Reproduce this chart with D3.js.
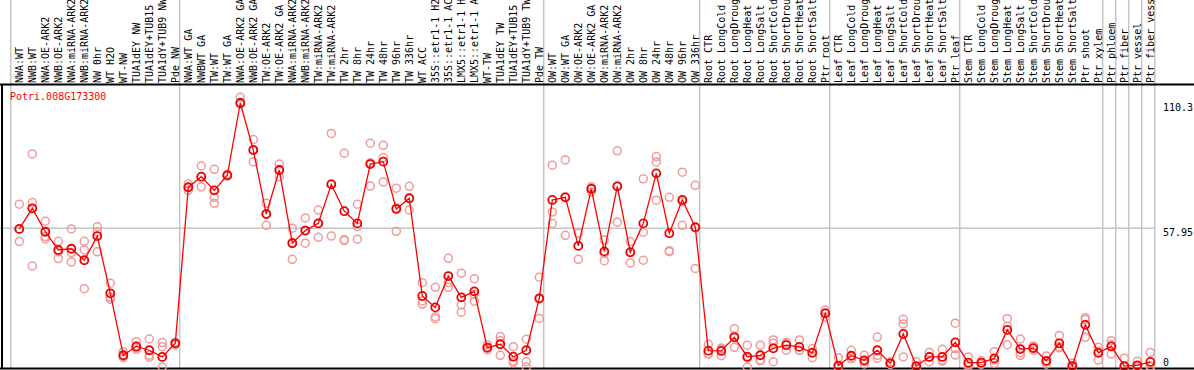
<!DOCTYPE html>
<html>
<head>
<meta charset="utf-8">
<script src="https://cdn.jsdelivr.net/npm/d3@7"></script>
<style>
  body { margin: 0; background: #fff; }
  svg text { font-family: "DejaVu Sans Mono", monospace; }
</style>
</head>
<body>
<script>
// sample labels, as shown (cut to 14 chars)
var categories = [
  'NWA:WT', 'NWB:WT', 'NWA:OE-ARK2', 'NWB:OE-ARK2', 'NWA:miRNA-ARK2', 'NWB:miRNA-ARK2', 'NW 0hr', 'WT H2O', 'WT-NW',
  'TUA1dEY NW', 'TUA1dEY+TUB15', 'TUA1dY+TUB9 NW', 'Pde NW',
  'NWA:WT GA', 'NWBWT GA', 'TW:WT', 'TW:WT GA', 'NWA:OE-ARK2 GA', 'NWB:OE-ARK2 GA', 'TW:OE-ARK2', 'TW:OE-ARK2 GA',
  'NWA:miRNA-ARK2', 'NWB:miRNA-ARK2', 'TW:miRNA-ARK2', 'TW:miRNA-ARK2', 'TW 2hr', 'TW 8hr', 'TW 24hr', 'TW 48hr',
  'TW 96hr', 'TW 336hr', 'WT ACC', '35S::etr1-1 H2', '35S::etr1-1 AC', 'LMX5::etr1-1 H', 'LMX5::etr1-1 A', 'WT-TW',
  'TUA1dEY TW', 'TUA1dEY+TUB15', 'TUA1dY+TUB9 TW', 'Pde TW',
  'OW:WT', 'OW:WT GA', 'OW:OE-ARK2', 'OW:OE-ARK2 GA', 'OW:miRNA-ARK2', 'OW:miRNA-ARK2', 'OW 2hr', 'OW 8hr', 'OW 24hr',
  'OW 48hr', 'OW 96hr', 'OW 336hr',
  'Root CTR', 'Root LongCold', 'Root LongDroug', 'Root LongHeat', 'Root LongSalt', 'Root ShortCold', 'Root ShortDrou',
  'Root ShortHeat', 'Root ShortSalt', 'Ptr root',
  'Leaf CTR', 'Leaf LongCold', 'Leaf LongDroug', 'Leaf LongHeat', 'Leaf LongSalt', 'Leaf ShortCold', 'Leaf ShortDrou',
  'Leaf ShortHeat', 'Leaf ShortSalt', 'Ptr leaf',
  'Stem CTR', 'Stem LongCold', 'Stem LongDroug', 'Stem LongHeat', 'Stem LongSalt', 'Stem ShortCold', 'Stem ShortDrou',
  'Stem ShortHeat', 'Stem ShortSalt', 'Ptr shoot', 'Ptr xylem',
  'Ptr phloem', 'Ptr fiber', 'Ptr vessel', 'Ptr fiber vess'
];

// how many samples in each experiment block
var groupSizes = [13, 28, 12, 10, 10, 11, 1, 1, 1, 1];

var meanValues = [
  57.7, 66.3, 56.5, 48.9, 49.4, 44.6, 54.7, 30.8, 4.9, 8.6, 7.0, 4.2, 9.9,
  75.1, 79.5, 73.8, 80.1, 110.3, 90.6, 63.9, 82.3, 51.7, 57.0, 60.0, 76.3, 65.1, 60.0, 84.8, 85.8, 66.0, 70.5,
  29.7, 24.9, 38.0, 29.1, 31.6, 8.1, 9.5, 4.3, 7.0, 28.7,
  69.8, 70.9, 50.6, 74.4, 48.3, 75.5, 47.9, 60.0, 80.9, 55.9, 69.8, 58.4,
  6.8, 6.7, 12.4, 4.3, 4.9, 7.8, 9.1, 8.4, 5.9, 22.4,
  0.6, 4.7, 2.8, 7.0, 1.5, 13.8, 0.4, 4.2, 4.2, 10.3,
  1.8, 1.8, 3.6, 15.5, 7.5, 7.9, 2.6, 9.9, 0.4, 17.6, 5.9,
  8.6, 0.4, 0.7, 2.1
];

var rep1 = [
  68, 89, 60.9, 52.5, 57.7, 52.5, 58.6, 35, 6.4, 10.6, 11.7, 10.2, 10.2,
  76.5, 84, 82.6, 80.5, 112.7, 95.1, 68.4, 84.8, 58, 62.3, 65.6, 97.6, 89.3, 68, 93.5, 92.6, 74.7, 75.5,
  35.2, 33.3, 45.4, 39.2, 36.9, 9.2, 12.7, 8.5, 11.6, 37.5,
  84.3, 86.5, 55.9, 75.3, 53.1, 90.3, 52.4, 78.6, 87.9, 70.9, 81.4, 75.9,
  9.5, 7.5, 16, 9.1, 9.1, 11.3, 10.2, 11.3, 7.7, 23.8,
  3.9, 7, 4.9, 12.5, 2.2, 19.9, 2.2, 6.1, 7.4, 18.3,
  4.2, 2.6, 6.4, 20.2, 11.7, 8.8, 4.6, 13.2, 1.6, 20.6, 8.2,
  11, 3.7, 2.4, 6.1
];

var rep2 = [
  57.5, 68.7, 54.5, 48.1, 47.8, 48.9, 56.5, 29.1, 4.4, 8.0, 4.9, 8.5, 9.2,
  75, 79.5, 70.9, 80, 109.9, 91, 64, 82.5, 52, 57, 60, 76.5, 53.2, 58.6, 85.3, 87.5, 66.5, 70.4,
  27.6, 21, 35.3, 26, 30.4, 8, 11, 2.5, 2.2, 28.3,
  64.8, 71, 50.6, 74.8, 47.5, 75.5, 48, 56.3, 85.7, 48.6, 69, 58.1,
  5.4, 7.9, 13, 3.8, 2.9, 9.9, 9.9, 7, 6.2, 22.7,
  0, 3.6, 2.2, 4.9, 1.2, 18, 0, 4.3, 2.9, 7.6,
  1, 1.8, 2.9, 17, 6, 7.9, 2, 8.5, 0, 19.8, 6.6,
  9.4, 0, 0, 0.4
];

var rep3 = [
  52.4, 42.2, 53.6, 45.3, 43.9, 32.7, 48.1, 28.3, 3.9, 7.4, 4.1, 0, 10.0,
  73.8, 75.3, 68.4, 79.8, 110.5, 85.7, 59.2, 79.5, 45, 51.7, 54.2, 54.7, 52.8, 53.4, 75.6, 77.3, 56.7, 65.6,
  26.3, 20.2, 33.3, 22.9, 27.5, 7.2, 4.9, 1.8, 0, 20.3,
  60, 55, 45, 73.1, 44.4, 60.5, 43.5, 44.6, 69.7, 48.2, 59.2, 41.2,
  5.6, 4.7, 8.2, 0, 2.7, 2.2, 7, 7, 3.9, 20.8,
  0, 3.5, 1.3, 3.7, 1.1, 4.2, 0, 2.2, 2.4, 5,
  0.2, 1.1, 1.6, 9.3, 4.9, 7, 1.2, 8.0, 0, 12.4, 2.9,
  5.4, 0, 0, 0
];

var yTicks = [0, 57.95, 110.3];
var geneName = 'Potri.008G173300';

var width = 1194, height = 370;
var plotTop = 85, plotBottom = 369;

var svg = d3.select('body').append('svg')
  .attr('width', width)
  .attr('height', height);

var x = d3.scaleBand()
  .domain(d3.range(categories.length))
  .range([10.7, 10.7 + 13 * categories.length]);

var px = function(i) { return x(i) + 8.6; };

var y = d3.scaleLinear()
  .domain([0, 110.3])
  .range([367, 103]);

// group separators
var bounds = [0];
groupSizes.forEach(function(n) { bounds.push(bounds[bounds.length - 1] + n); });

svg.selectAll('.vgrid')
  .data(bounds)
  .enter()
  .append('line')
  .attr('class', 'vgrid')
  .attr('x1', function(b) { return b < categories.length ? x(b) : x(categories.length - 1) + x.bandwidth(); })
  .attr('x2', function(b) { return b < categories.length ? x(b) : x(categories.length - 1) + x.bandwidth(); })
  .attr('y1', 0)
  .attr('y2', plotBottom)
  .attr('stroke', '#c4c4c4')
  .attr('stroke-width', 1.5);

// middle horizontal grid line
svg.append('line')
  .attr('x1', 0)
  .attr('x2', x(categories.length - 1) + x.bandwidth())
  .attr('y1', y(yTicks[1]))
  .attr('y2', y(yTicks[1]))
  .attr('stroke', '#c4c4c4')
  .attr('stroke-width', 1.5);

// frame
svg.append('line')
  .attr('x1', 0).attr('x2', width)
  .attr('y1', plotTop - 0.5).attr('y2', plotTop - 0.5)
  .attr('stroke', '#000').attr('stroke-width', 2);
svg.append('line')
  .attr('x1', 0).attr('x2', width)
  .attr('y1', plotBottom - 0.5).attr('y2', plotBottom - 0.5)
  .attr('stroke', '#000').attr('stroke-width', 2);
svg.append('line')
  .attr('x1', 2).attr('x2', 2)
  .attr('y1', plotTop).attr('y2', plotBottom)
  .attr('stroke', '#000').attr('stroke-width', 2);

// sample labels, rotated
svg.selectAll('.cat')
  .data(categories)
  .enter()
  .append('text')
  .attr('class', 'cat')
  .attr('transform', function(d, i) { return 'translate(' + (px(i) + 3.5) + ',83) rotate(-90)'; })
  .attr('font-size', 10)
  .attr('fill', '#000')
  .text(function(d) { return d; });

// right axis labels
svg.selectAll('.ytick')
  .data(yTicks)
  .enter()
  .append('text')
  .attr('class', 'ytick')
  .attr('x', 1163)
  .attr('y', function(d) { return Math.min(y(d) + 8, 366); })
  .attr('font-size', 10)
  .attr('fill', '#000')
  .text(function(d) { return d; });

svg.append('text')
  .attr('x', 10)
  .attr('y', 100)
  .attr('font-size', 10)
  .attr('fill', '#ff0000')
  .text(geneName);

// replicate points
[rep1, rep2, rep3].forEach(function(rep, k) {
  svg.selectAll('.rep' + k)
    .data(rep)
    .enter()
    .append('circle')
    .attr('class', 'rep' + k)
    .attr('cx', function(d, i) { return px(i); })
    .attr('cy', function(d) { return y(d); })
    .attr('r', 4)
    .attr('fill', 'none')
    .attr('stroke', '#f09a9a')
    .attr('stroke-width', 1.5);
});

var line = d3.line()
  .x(function(d, i) { return px(i); })
  .y(function(d) { return y(d); });

svg.append('path')
  .datum(meanValues)
  .attr('d', line)
  .attr('fill', 'none')
  .attr('stroke', '#ff0000')
  .attr('stroke-width', 1.3);

svg.selectAll('.mean')
  .data(meanValues)
  .enter()
  .append('circle')
  .attr('class', 'mean')
  .attr('cx', function(d, i) { return px(i); })
  .attr('cy', function(d) { return y(d); })
  .attr('r', 4)
  .attr('fill', 'none')
  .attr('stroke', '#ee0000')
  .attr('stroke-width', 1.8);
</script>
</body>
</html>
